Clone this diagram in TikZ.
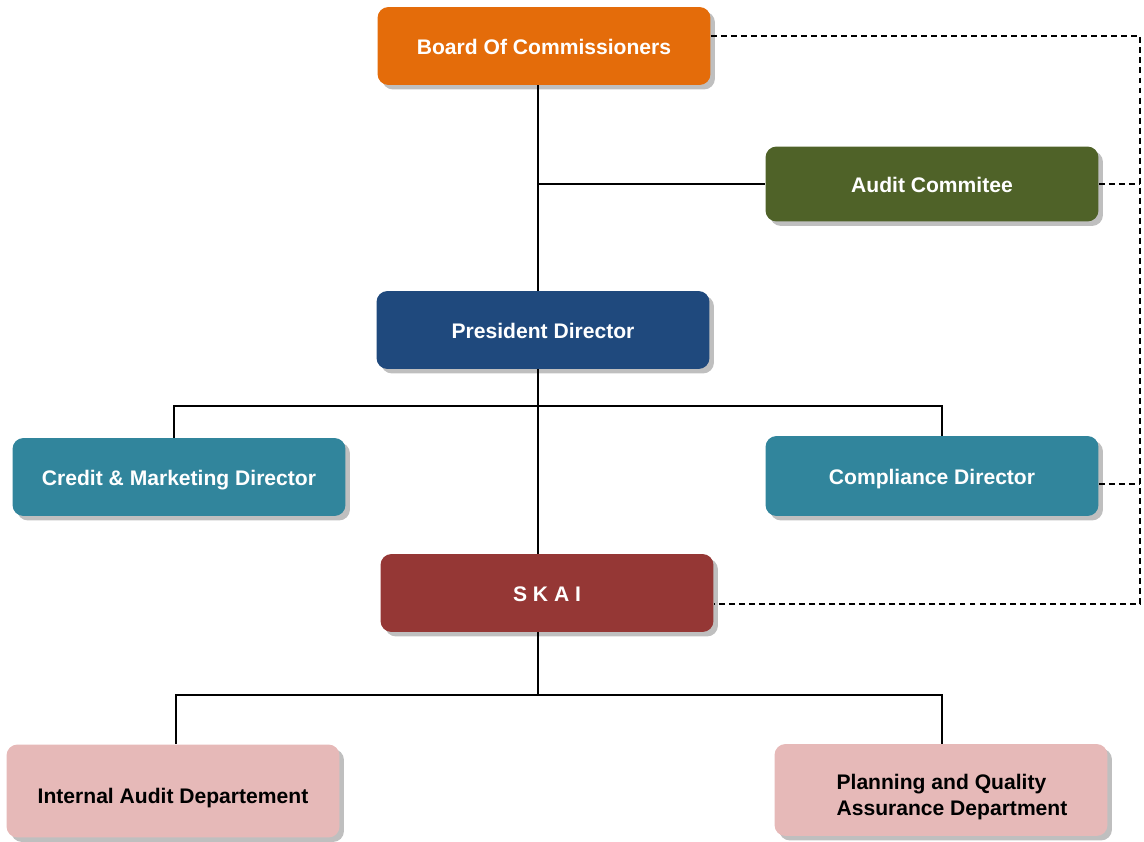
\documentclass[tikz,border=0pt]{standalone}
\usepackage{fontspec}
\setmainfont{Liberation Sans}
\usetikzlibrary{shadows}
\definecolor{boardcol}{HTML}{E46C0A}
\definecolor{auditcol}{HTML}{4F6228}
\definecolor{prescol}{HTML}{1F497D}
\definecolor{dircol}{HTML}{31859C}
\definecolor{skaicol}{HTML}{953735}
\definecolor{deptcol}{HTML}{E6B9B8}
\begin{document}
\begin{tikzpicture}[x=0.02cm,y=-0.02cm]

      \tikzset{unit/.style={rounded corners=0.22cm, minimum width=6.66cm, minimum height=1.56cm,
                 font=\fontsize{12}{14.5}\selectfont\bfseries, text=white,
                 text height=12pt, text depth=2.5pt,
                 drop shadow={shadow xshift=0.09cm, shadow yshift=-0.09cm, fill=black!50}},
               dept/.style={unit, minimum height=1.86cm, text=black, fill=deptcol},
               link/.style={line width=1pt},
               report/.style={line width=1pt, dash pattern=on 3.4pt off 2.3pt}}
      \useasboundingbox (0,0) rectangle (1144,842);
%% Units
      	\node[unit, fill=boardcol] (board) at (544,46) {Board Of Commissioners};
      	\node[unit, fill=auditcol, minimum height=1.5cm] (audit) at (932,184) {Audit Commitee};
      	\node[unit, fill=prescol] (pres) at (543,330) {President Director};
      	\node[unit, fill=dircol] (credit) at (179,477) {Credit \& Marketing Director};
      	\node[unit, fill=dircol, minimum height=1.6cm] (compl) at (932,476) {Compliance Director};
      	\node[unit, fill=skaicol] (skai) at (547,593) {S K A I};
      	\node[dept, text height=17pt] (intern) at (173,791) {Internal Audit Departement};
      	\node[dept, align=left, minimum height=1.84cm, text height=31pt] (plan) at (941,790)
      	     {\hspace*{0.44cm}Planning and Quality\\\hspace*{0.44cm}Assurance Department};
%Junctions
      	\coordinate (j1) at (538,184);
      	\coordinate (j2) at (538,406);
      	\coordinate (c1) at (174,406);
      	\coordinate (c2) at (942,406);
      	\coordinate (j3) at (538,695);
      	\coordinate (d1) at (176,695);
      	\coordinate (d2) at (942,695);
      	\coordinate (r1) at (1140,36);
      	\coordinate (r2) at (1140,184);
      	\coordinate (r3) at (1140,484);
      	\coordinate (r4) at (1140,604);
%Lines
		\draw[link] (board.south -| j1) -- (pres.north -| j1);
		\draw[link] (j1) -- (audit.west);
		\draw[link] (pres.south -| j2) -- (skai.north -| j2);
		\draw[link] (credit.north -| c1) -- (c1) -- (c2) -- (compl.north -| c2);
		\draw[link] (skai.south -| j3) -- (j3);
		\draw[link] (intern.north -| d1) -- (d1) -- (d2) -- (plan.north -| d2);
		\draw[report] (board.east |- r1) -- (r1) -- (r4) -- (skai.east |- r4);
		\draw[report] (audit.east) -- (r2);
		\draw[report] (compl.east |- r3) -- (r3);

	\end{tikzpicture}
\end{document}
